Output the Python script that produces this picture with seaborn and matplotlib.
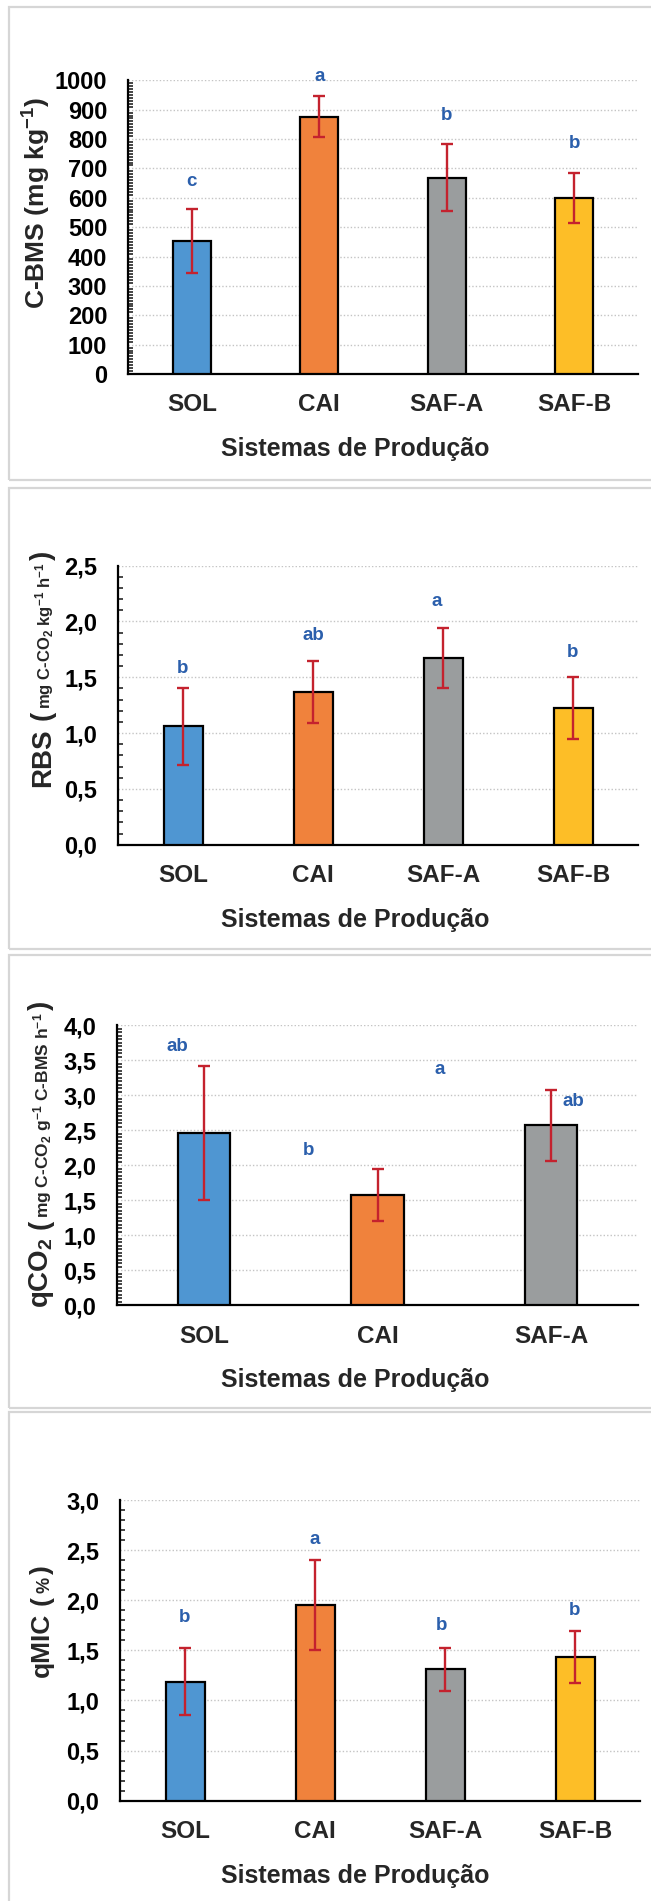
import matplotlib
matplotlib.use("Agg")
import matplotlib.pyplot as plt
import seaborn as sns
import pandas as pd
from matplotlib.ticker import MultipleLocator, FuncFormatter
from matplotlib.patches import Rectangle

# ---------------- data ----------------
sistemas4 = ["SOL", "CAI", "SAF-A", "SAF-B"]
sistemas3 = ["SOL", "CAI", "SAF-A"]

cbms_media = [453, 876, 669, 600]
cbms_dp = [110, 70, 115, 86]
cbms_letras = ["c", "a", "b", "b"]
cbms_letra_x = [0, 1, 2, 3]
cbms_letra_y = [655, 1012, 881, 785]

rbs_media = [1.06, 1.365, 1.676, 1.225]
rbs_dp = [0.345, 0.277, 0.27, 0.28]
rbs_letras = ["b", "ab", "a", "b"]
rbs_letra_x = [0, 1, 1.95, 3]
rbs_letra_y = [1.577, 1.873, 2.177, 1.72]

qco2_media = [2.454, 1.574, 2.568]
qco2_dp = [0.955, 0.374, 0.51]
qco2_letras = ["ab", "b", "a", "ab"]
qco2_letra_x = [-0.15, 0.6, 1.36, 2.13]
qco2_letra_y = [3.70, 2.216, 3.367, 2.91]

qmic_media = [1.187, 1.95, 1.31, 1.437]
qmic_dp = [0.335, 0.45, 0.215, 0.26]
qmic_letras = ["b", "a", "b", "b"]
qmic_letra_x = [0, 1, 1.97, 3]
qmic_letra_y = [1.83, 2.61, 1.75, 1.90]

cores = ["#4F96D2", "#F0823C", "#9A9D9E", "#FDBE27"]
cor_erro = "#C4222E"
cor_letra = "#2B5FAC"

# ---------------- style ----------------
sns.set_style("white")
plt.rcParams["font.family"] = ["Liberation Sans", "DejaVu Sans"]
plt.rcParams["font.weight"] = "bold"
plt.rcParams["mathtext.fontset"] = "custom"
plt.rcParams["mathtext.rm"] = "Liberation Sans:bold"
plt.rcParams["mathtext.bf"] = "Liberation Sans:bold"
plt.rcParams["mathtext.it"] = "Liberation Sans:bold"
plt.rcParams["mathtext.default"] = "bf"

W, H = 651, 1901
fig = plt.figure(figsize=(W / 100, H / 100), dpi=100)
fig.patch.set_facecolor("white")


def fx(px):
    return px / W


def fy(py):
    return 1 - py / H


# panel frames (light grey boxes)
for top, bottom in [(7, 480), (488, 949), (955, 1408), (1412, 1960)]:
    fig.add_artist(Rectangle((fx(9), fy(bottom)), fx(720 - 9), (bottom - top) / H,
                             transform=fig.transFigure, fill=False,
                             edgecolor="#D6D6D6", linewidth=1.6, zorder=0))


def decimal_virgula(casas):
    return FuncFormatter(lambda v, p: f"{v:.{casas}f}".replace(".", ","))


def painel(box, cats, media, dp, ymax, major, minor, casas,
           letras, letra_x, letra_y):
    left, right, top, bottom = box
    ax = fig.add_axes([fx(left), fy(bottom), (right - left) / W, (bottom - top) / H])
    df = pd.DataFrame({"sistema": cats, "valor": media})
    sns.barplot(data=df, x="sistema", y="valor", hue="sistema",
                palette=cores[:len(cats)], saturation=1, width=0.30,
                edgecolor="black", linewidth=1.6, errorbar=None, legend=False,
                ax=ax, zorder=3)
    ax.errorbar(range(len(cats)), media, yerr=dp, fmt="none", ecolor=cor_erro,
                elinewidth=1.7, capsize=4, capthick=1.7, zorder=4)
    for lx, ly, t in zip(letra_x, letra_y, letras):
        ax.text(lx, ly, t, ha="center", va="center", color=cor_letra,
                fontsize=13.5, fontweight="bold", clip_on=False)
    ax.set_xlim(-0.5, len(cats) - 0.5)
    ax.set_ylim(0, ymax)
    ax.yaxis.set_major_locator(MultipleLocator(major))
    ax.yaxis.set_minor_locator(MultipleLocator(minor))
    ax.yaxis.set_major_formatter(decimal_virgula(casas))
    ax.tick_params(axis="y", which="major", direction="inout", length=8,
                   width=1.5, pad=11, labelsize=17, colors="black")
    ax.tick_params(axis="y", which="minor", direction="in", length=3.5,
                   width=1.2, left=True)
    ax.tick_params(axis="x", length=0, pad=14, labelsize=17.5)
    ax.set_axisbelow(True)
    ax.grid(axis="y", which="major", linestyle=(0, (1, 1.5)),
            color="#C4C4C4", linewidth=1)
    ax.grid(axis="x", visible=False)
    for s in ["top", "right"]:
        ax.spines[s].set_visible(False)
    for s in ["left", "bottom"]:
        ax.spines[s].set_linewidth(1.6)
        ax.spines[s].set_color("black")
    ax.set_xlabel("")
    ax.set_ylabel("")
    fig.text(fx(355), fy(bottom + 75), "Sistemas de Produção", ha="center",
             va="center", fontsize=18, fontweight="bold")
    return ax


painel((128, 638, 80.3, 374), sistemas4, cbms_media, cbms_dp, 1000, 100, 10, 0,
       cbms_letras, cbms_letra_x, cbms_letra_y)
painel((118, 638, 565.7, 844.7), sistemas4, rbs_media, rbs_dp, 2.5, 0.5, 0.1, 1,
       rbs_letras, rbs_letra_x, rbs_letra_y)
painel((117, 638, 1025, 1305.3), sistemas3, qco2_media, qco2_dp, 4.0, 0.5, 0.05, 1,
       qco2_letras, qco2_letra_x, qco2_letra_y)
painel((120, 640, 1500, 1800.7), sistemas4, qmic_media, qmic_dp, 3.0, 0.5, 0.1, 1,
       qmic_letras, qmic_letra_x, qmic_letra_y)

# ---------------- y-axis titles built from pieces of different sizes ----------------
renderer = fig.canvas.get_renderer()


def titulo_y(x_base, y_start, partes):
    y = y_start
    for texto, tam, folga in partes:
        t = fig.text(fx(x_base), fy(y), texto, rotation=90, rotation_mode="anchor",
                     ha="left", va="baseline", fontsize=tam, fontweight="bold")
        bb = t.get_window_extent(renderer)
        y -= bb.height + folga


titulo_y(45.7, 309, [("C-BMS (mg kg$^{-1}$)", 19, 0)])
titulo_y(50, 786.7, [("RBS", 20, 8), ("(", 20, 2),
                     ("mg C-CO$_2$ kg$^{-1}$ h$^{-1}$", 12, 2), (")", 20, 0)])
titulo_y(48, 1308, [("qCO$_2$", 20, 8), ("(", 20, 2),
                    ("mg C-CO$_2$ g$^{-1}$ C-BMS h$^{-1}$", 12.5, 2), (")", 20, 0)])
titulo_y(49, 1677, [("qMIC", 19, 8), ("(", 19, 3), ("%", 13, 3), (")", 19, 0)])

fig.savefig("out.png", dpi=100, facecolor="white")
